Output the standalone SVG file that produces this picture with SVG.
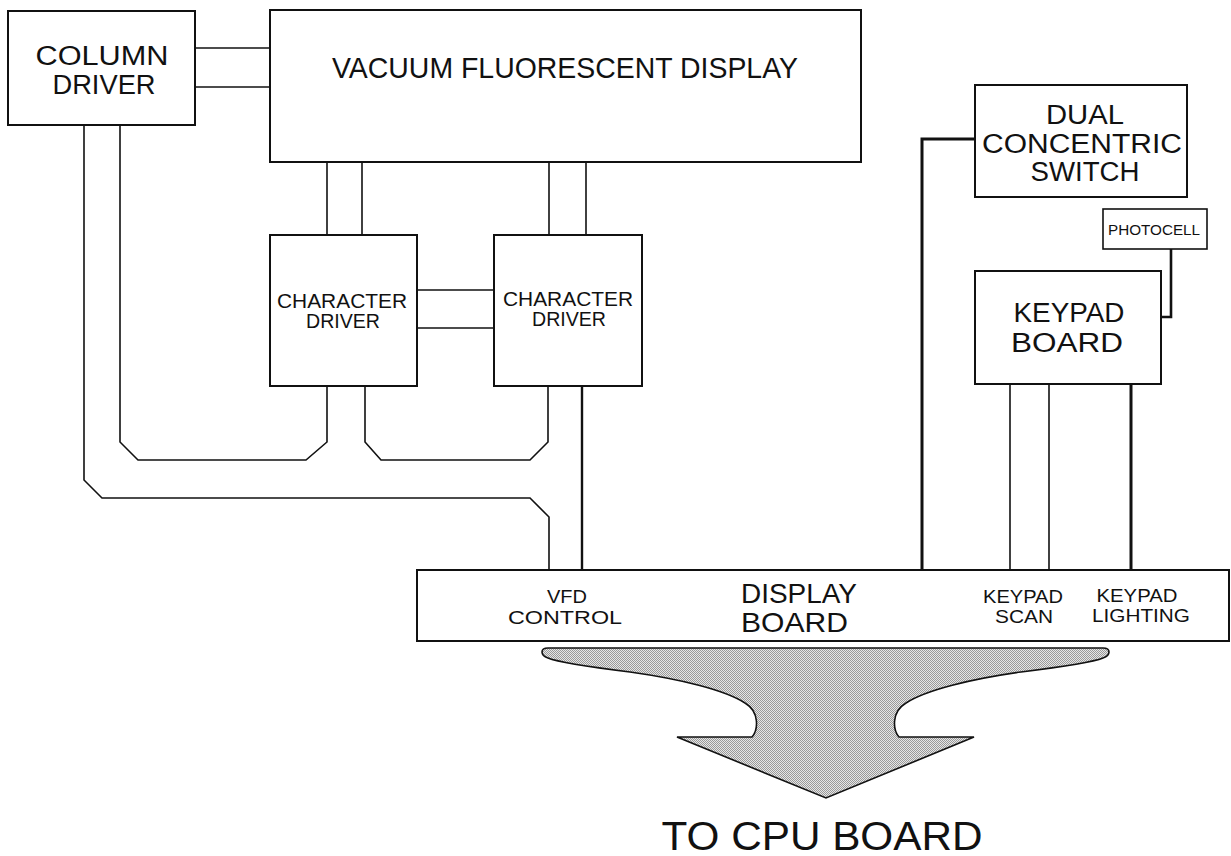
<svg xmlns="http://www.w3.org/2000/svg" width="1231" height="856" viewBox="0 0 1231 856">
<style>
.box{fill:#fff;stroke:#111;stroke-width:2}
.ln{fill:none;stroke:#111;stroke-width:1.6;stroke-linejoin:miter}
.thk{fill:none;stroke:#111;stroke-width:3}
.t{font-family:"Liberation Sans",Arial,sans-serif;fill:#111;text-anchor:middle}
.s{font-family:"Liberation Sans",Arial,sans-serif;fill:#111}
</style>
<defs>
<pattern id="dots" width="2" height="2" patternUnits="userSpaceOnUse">
<rect width="2" height="2" fill="#e6e6e6"/>
<rect width="1" height="1" fill="#999"/>
<rect x="1" y="1" width="1" height="1" fill="#999"/>
</pattern>
</defs>
<rect width="1231" height="856" fill="#fff"/>

<g id="connectors">
<line class="ln" x1="195" y1="48" x2="270" y2="48"/>
<line class="ln" x1="195" y1="87" x2="270" y2="87"/>
<line class="ln" x1="327" y1="162" x2="327" y2="235"/>
<line class="ln" x1="362" y1="162" x2="362" y2="235"/>
<line class="ln" x1="549" y1="162" x2="549" y2="235"/>
<line class="ln" x1="586" y1="162" x2="586" y2="235"/>
<line class="ln" x1="417" y1="290" x2="494" y2="290"/>
<line class="ln" x1="417" y1="328" x2="494" y2="328"/>
<path class="ln" d="M84,125 V480 L102,498 H530 L549,517 V570"/>
<path class="ln" d="M120,125 V442 L138,460 H306 L327,442 V386"/>
<path class="ln" d="M365,386 V442 L381,460 H530 L548,442 V386"/>
<line x1="582" y1="386" x2="582" y2="570" stroke="#111" stroke-width="2.4"/>
<path class="thk" d="M975,139 H922 V570"/>
<line class="ln" x1="1010" y1="384" x2="1010" y2="570"/>
<line class="ln" x1="1049" y1="384" x2="1049" y2="570"/>
<line class="thk" x1="1131" y1="384" x2="1131" y2="570"/>
<path d="M1171,249 V317 H1154" fill="none" stroke="#111" stroke-width="2.6"/>
</g>

<g id="column-driver">
<rect class="box" x="8" y="11" width="187" height="114"/>
<text class="t" x="102" y="65" font-size="27" textLength="133" lengthAdjust="spacingAndGlyphs">COLUMN</text>
<text class="t" x="104" y="94" font-size="27" textLength="103" lengthAdjust="spacingAndGlyphs">DRIVER</text>
</g>

<g id="vfd">
<rect class="box" x="270" y="10" width="591" height="152"/>
<text class="t" x="565" y="78" font-size="30" textLength="466" lengthAdjust="spacingAndGlyphs">VACUUM FLUORESCENT DISPLAY</text>
</g>

<g id="char-driver-1">
<rect class="box" x="270" y="235" width="147" height="151"/>
<text class="t" x="342" y="308" font-size="20" textLength="130" lengthAdjust="spacingAndGlyphs">CHARACTER</text>
<text class="t" x="343" y="328" font-size="20" textLength="74" lengthAdjust="spacingAndGlyphs">DRIVER</text>
</g>

<g id="char-driver-2">
<rect class="box" x="494" y="235" width="148" height="151"/>
<text class="t" x="568" y="306" font-size="20" textLength="130" lengthAdjust="spacingAndGlyphs">CHARACTER</text>
<text class="t" x="569" y="326" font-size="20" textLength="74" lengthAdjust="spacingAndGlyphs">DRIVER</text>
</g>

<g id="dual-concentric-switch">
<rect class="box" x="975" y="85" width="212" height="112"/>
<text class="t" x="1085" y="124" font-size="27" textLength="78" lengthAdjust="spacingAndGlyphs">DUAL</text>
<text class="t" x="1082" y="153" font-size="27" textLength="200" lengthAdjust="spacingAndGlyphs">CONCENTRIC</text>
<text class="t" x="1085" y="181" font-size="27" textLength="109" lengthAdjust="spacingAndGlyphs">SWITCH</text>
</g>

<g id="photocell">
<rect x="1103" y="209" width="104" height="40" fill="#fff" stroke="#111" stroke-width="1.6"/>
<text class="t" x="1154" y="235" font-size="14" textLength="92" lengthAdjust="spacingAndGlyphs">PHOTOCELL</text>
</g>

<g id="keypad-board">
<rect class="box" x="975" y="271" width="186" height="113"/>
<text class="t" x="1069" y="322" font-size="27" textLength="111" lengthAdjust="spacingAndGlyphs">KEYPAD</text>
<text class="t" x="1067" y="352" font-size="27" textLength="112" lengthAdjust="spacingAndGlyphs">BOARD</text>
</g>

<g id="display-board">
<rect class="box" x="417" y="570" width="812" height="71"/>
<text class="t" x="567" y="603" font-size="19" textLength="40" lengthAdjust="spacingAndGlyphs">VFD</text>
<text class="t" x="565" y="624" font-size="19" textLength="114" lengthAdjust="spacingAndGlyphs">CONTROL</text>
<text class="s" x="741" y="603" font-size="28" textLength="116" lengthAdjust="spacingAndGlyphs">DISPLAY</text>
<text class="s" x="741" y="632" font-size="28" textLength="107" lengthAdjust="spacingAndGlyphs">BOARD</text>
<text class="t" x="1023" y="603" font-size="19" textLength="80" lengthAdjust="spacingAndGlyphs">KEYPAD</text>
<text class="t" x="1024" y="623" font-size="19" textLength="58" lengthAdjust="spacingAndGlyphs">SCAN</text>
<text class="t" x="1137" y="602" font-size="19" textLength="81" lengthAdjust="spacingAndGlyphs">KEYPAD</text>
<text class="t" x="1141" y="622" font-size="19" textLength="98" lengthAdjust="spacingAndGlyphs">LIGHTING</text>
</g>

<g id="cpu-arrow">
<path d="M548,648 H1103 C1111,648 1111,655 1103,658 C1091,663 1061,667 1021,672 C971,679 926,690 906,703 C891,712 893,730 899,737 L974,737 L826,798 L677,737 L752,737 C758,730 760,712 745,703 C725,690 680,679 630,672 C590,667 560,663 548,658 C540,655 540,648 548,648 Z" fill="url(#dots)" stroke="#111" stroke-width="1.6"/>
<text class="t" x="822" y="850" font-size="40" textLength="321" lengthAdjust="spacingAndGlyphs">TO CPU BOARD</text>
</g>
</svg>
